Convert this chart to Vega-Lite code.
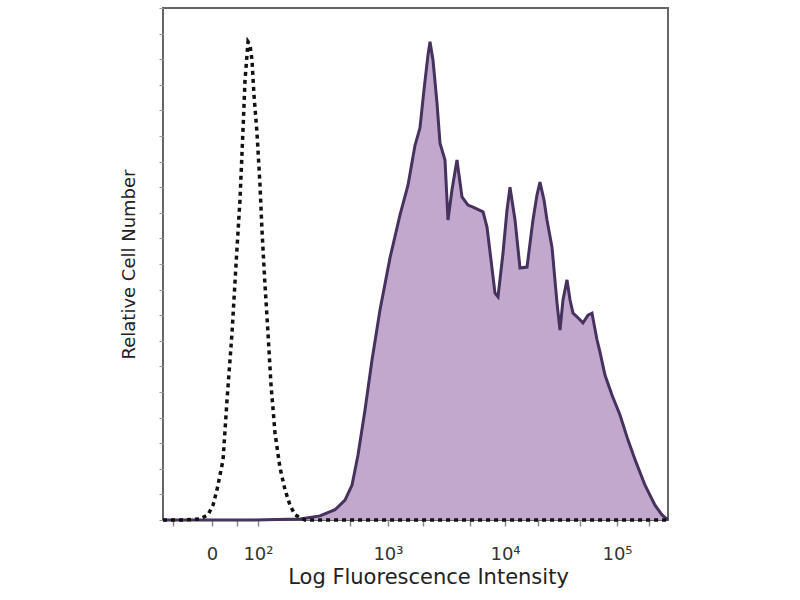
{
  "$schema": "https://vega.github.io/schema/vega-lite/v6.json",
  "autosize": "none",
  "width": 505,
  "height": 512,
  "padding": {"left": 163, "top": 8, "right": 132, "bottom": 80},
  "background": "white",
  "config": {
    "view": {"stroke": "#666", "strokeWidth": 2},
    "font": "DejaVu Sans"
  },
  "data": {
    "values": [
      {"series": "isotype", "channel": 0, "count": 0},
      {"series": "isotype", "channel": 44.6, "count": 0},
      {"series": "isotype", "channel": 75.0, "count": 0.2},
      {"series": "isotype", "channel": 91.2, "count": 1.0},
      {"series": "isotype", "channel": 101.4, "count": 2.9},
      {"series": "isotype", "channel": 109.5, "count": 5.9},
      {"series": "isotype", "channel": 115.6, "count": 8.8},
      {"series": "isotype", "channel": 121.7, "count": 11.7},
      {"series": "isotype", "channel": 129.8, "count": 23.4},
      {"series": "isotype", "channel": 139.9, "count": 36.5},
      {"series": "isotype", "channel": 148.0, "count": 49.8},
      {"series": "isotype", "channel": 156.1, "count": 62.5},
      {"series": "isotype", "channel": 162.2, "count": 76.2},
      {"series": "isotype", "channel": 166.3, "count": 85.9},
      {"series": "isotype", "channel": 172.4, "count": 93.4},
      {"series": "isotype", "channel": 176.4, "count": 92.8},
      {"series": "isotype", "channel": 180.5, "count": 89.8},
      {"series": "isotype", "channel": 184.5, "count": 83.0},
      {"series": "isotype", "channel": 190.6, "count": 75.6},
      {"series": "isotype", "channel": 196.7, "count": 65.4},
      {"series": "isotype", "channel": 200.7, "count": 56.6},
      {"series": "isotype", "channel": 206.8, "count": 45.9},
      {"series": "isotype", "channel": 212.9, "count": 36.5},
      {"series": "isotype", "channel": 219.0, "count": 26.4},
      {"series": "isotype", "channel": 227.1, "count": 17.0},
      {"series": "isotype", "channel": 237.2, "count": 10.2},
      {"series": "isotype", "channel": 247.4, "count": 5.9},
      {"series": "isotype", "channel": 257.5, "count": 2.9},
      {"series": "isotype", "channel": 267.7, "count": 1.0},
      {"series": "isotype", "channel": 287.9, "count": 0},
      {"series": "isotype", "channel": 1024, "count": 0},
      {"series": "stained", "channel": 0, "count": 0},
      {"series": "stained", "channel": 176.4, "count": 0},
      {"series": "stained", "channel": 277.8, "count": 0.2},
      {"series": "stained", "channel": 318.3, "count": 0.8},
      {"series": "stained", "channel": 348.8, "count": 2.0},
      {"series": "stained", "channel": 369.0, "count": 3.9},
      {"series": "stained", "channel": 383.2, "count": 6.8},
      {"series": "stained", "channel": 395.4, "count": 12.7},
      {"series": "stained", "channel": 409.6, "count": 21.5},
      {"series": "stained", "channel": 423.8, "count": 31.25},
      {"series": "stained", "channel": 440.0, "count": 41.0},
      {"series": "stained", "channel": 460.3, "count": 51.2},
      {"series": "stained", "channel": 480.6, "count": 59.6},
      {"series": "stained", "channel": 496.8, "count": 65.4},
      {"series": "stained", "channel": 511.0, "count": 73.2},
      {"series": "stained", "channel": 521.1, "count": 76.6},
      {"series": "stained", "channel": 529.2, "count": 84.0},
      {"series": "stained", "channel": 537.3, "count": 90.8},
      {"series": "stained", "channel": 541.4, "count": 93.4},
      {"series": "stained", "channel": 547.5, "count": 89.8},
      {"series": "stained", "channel": 555.6, "count": 81.4},
      {"series": "stained", "channel": 561.7, "count": 73.6},
      {"series": "stained", "channel": 571.8, "count": 70.3},
      {"series": "stained", "channel": 577.9, "count": 58.6},
      {"series": "stained", "channel": 586.0, "count": 64.5},
      {"series": "stained", "channel": 596.1, "count": 70.3},
      {"series": "stained", "channel": 606.3, "count": 63.1},
      {"series": "stained", "channel": 618.4, "count": 61.5},
      {"series": "stained", "channel": 628.6, "count": 61.1},
      {"series": "stained", "channel": 648.9, "count": 60.2},
      {"series": "stained", "channel": 657.0, "count": 57.2},
      {"series": "stained", "channel": 665.1, "count": 50.8},
      {"series": "stained", "channel": 673.2, "count": 44.3},
      {"series": "stained", "channel": 679.3, "count": 43.6},
      {"series": "stained", "channel": 689.4, "count": 52.1},
      {"series": "stained", "channel": 697.5, "count": 60.5},
      {"series": "stained", "channel": 703.6, "count": 65.0},
      {"series": "stained", "channel": 713.8, "count": 58.6},
      {"series": "stained", "channel": 723.9, "count": 49.2},
      {"series": "stained", "channel": 738.1, "count": 49.4},
      {"series": "stained", "channel": 750.2, "count": 58.6},
      {"series": "stained", "channel": 758.4, "count": 63.5},
      {"series": "stained", "channel": 764.4, "count": 66.0},
      {"series": "stained", "channel": 772.6, "count": 62.5},
      {"series": "stained", "channel": 778.6, "count": 58.6},
      {"series": "stained", "channel": 788.8, "count": 53.3},
      {"series": "stained", "channel": 798.9, "count": 42.4},
      {"series": "stained", "channel": 805.0, "count": 37.1},
      {"series": "stained", "channel": 811.1, "count": 43.0},
      {"series": "stained", "channel": 819.2, "count": 46.9},
      {"series": "stained", "channel": 825.3, "count": 43.0},
      {"series": "stained", "channel": 831.4, "count": 40.4},
      {"series": "stained", "channel": 841.5, "count": 39.5},
      {"series": "stained", "channel": 851.6, "count": 38.5},
      {"series": "stained", "channel": 861.8, "count": 40.0},
      {"series": "stained", "channel": 869.9, "count": 40.4},
      {"series": "stained", "channel": 880.0, "count": 35.2},
      {"series": "stained", "channel": 886.1, "count": 32.8},
      {"series": "stained", "channel": 896.2, "count": 28.3},
      {"series": "stained", "channel": 910.4, "count": 24.4},
      {"series": "stained", "channel": 926.7, "count": 20.5},
      {"series": "stained", "channel": 942.9, "count": 15.6},
      {"series": "stained", "channel": 959.1, "count": 11.3},
      {"series": "stained", "channel": 977.4, "count": 6.8},
      {"series": "stained", "channel": 997.6, "count": 2.9},
      {"series": "stained", "channel": 1011.8, "count": 1.0},
      {"series": "stained", "channel": 1024, "count": 0}
    ]
  },
  "encoding": {
    "x": {
      "field": "channel",
      "type": "quantitative",
      "scale": {"domain": [0, 1024], "nice": false, "zero": false},
      "axis": {
        "title": "Log Fluorescence Intensity",
        "titleFont": "DejaVu Sans",
        "titleFontSize": 21,
        "titleFontWeight": "normal",
        "titleColor": "#222",
        "titlePadding": 3,
        "titleX": 265,
        "titleAlign": "center",
        "values": [20, 99.4, 150, 192.6, 379, 456.2, 527, 622, 693.5, 760, 846, 920.6, 985],
        "labelExpr": "datum.value == 99.4 ? '0' : datum.value == 192.6 ? '10²' : datum.value == 456.2 ? '10³' : datum.value == 693.5 ? '10⁴' : datum.value == 920.6 ? '10⁵' : ''",
        "labelFont": "DejaVu Sans",
        "labelFontSize": 18,
        "labelColor": "#333",
        "labelPadding": 19,
        "labelOverlap": false,
        "labelFlush": false,
        "domain": false,
        "grid": false,
        "ticks": true,
        "tickSize": 6,
        "tickColor": "#888",
        "tickWidth": 1.5
      }
    },
    "y": {
      "field": "count",
      "type": "quantitative",
      "scale": {"domain": [0, 100], "nice": false},
      "axis": {
        "title": "Relative Cell Number",
        "titleFont": "DejaVu Sans",
        "titleFontSize": 18,
        "titleFontWeight": "normal",
        "titleColor": "#222",
        "titlePadding": 20,
        "labels": false,
        "domain": false,
        "grid": false,
        "tickCount": 20,
        "tickSize": 4,
        "tickColor": "#999",
        "tickWidth": 1
      }
    }
  },
  "layer": [
    {
      "transform": [{"filter": "datum.series == 'stained'"}],
      "mark": {"type": "area", "color": "#c3a8cd", "opacity": 1}
    },
    {
      "transform": [{"filter": "datum.series == 'stained'"}],
      "mark": {"type": "line", "color": "#45325f", "strokeWidth": 3}
    },
    {
      "transform": [{"filter": "datum.series == 'isotype'"}],
      "mark": {"type": "line", "color": "#111", "strokeWidth": 3.5, "strokeDash": [4, 4]}
    }
  ]
}
